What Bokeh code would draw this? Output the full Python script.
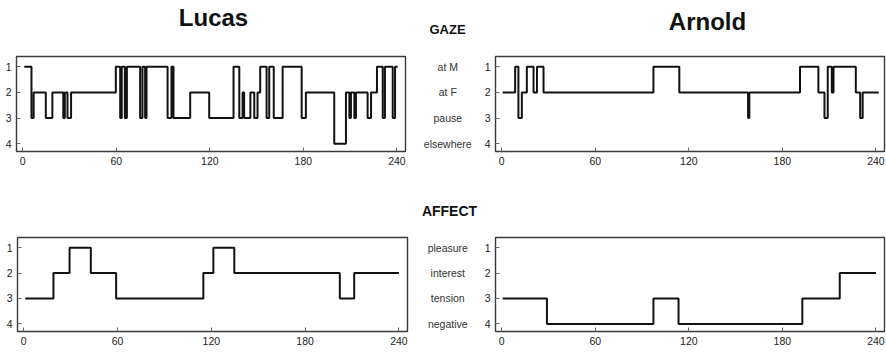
from bokeh.plotting import figure
from bokeh.layouts import column, row
from bokeh.models import Range1d, FixedTicker
from bokeh.embed import file_html
from bokeh.resources import INLINE
from bokeh.core.properties import value

# ---------------- data ----------------
x_ticks = [0, 60, 120, 180, 240]
y_ticks = [1, 2, 3, 4]
gaze_labels = ["at M", "at F", "pause", "elsewhere"]
affect_labels = ["pleasure", "interest", "tension", "negative"]

lucas_gaze_t = [1, 5.6, 7, 14.8, 19, 26, 27, 28.7, 31,
                59.7, 62.5, 63.5, 65.5, 66.8, 75.3, 76.8, 78.5, 79.4, 92.9, 95.4, 96.7,
                107.4, 119.6, 135.2, 138.9, 141, 142, 146, 148.5, 150.6,
                152.3, 156.4, 158.1, 161, 166.7, 178.9, 181.6, 199.8, 207.3, 209.5,
                210.5, 212.7, 213.7, 221.2, 223.4, 227.2, 230.9, 232.3, 237.3, 238.8,
                240.5]
lucas_gaze_lvl = [1, 3, 2, 3, 2, 3, 2, 3, 2,
                  1, 3, 1, 3, 1, 3, 1, 3, 1, 3, 1, 3,
                  2, 3, 1, 3, 2, 3, 2, 3, 2,
                  1, 3, 1, 3, 1, 3, 2, 4, 2, 3,
                  2, 3, 2, 3, 2, 1, 3, 1, 3, 1]

arnold_gaze_t = [0.6, 8.6, 10.7, 12.9, 16.1, 20.4, 22.6, 26.8, 97.3, 113.9,
                 158, 158.8, 191.3, 203.1, 207, 209.1, 211.7, 212.8, 227.1, 229.9,
                 231.5, 241.8]
arnold_gaze_lvl = [2, 1, 3, 2, 1, 2, 1, 2, 1, 2,
                   3, 2, 1, 2, 3, 1, 2, 1, 2, 3, 2]

lucas_affect_t = [1, 19, 29.3, 42.9, 59.1, 114.9, 121.3, 134.7, 202.2, 211.4, 240]
lucas_affect_lvl = [3, 2, 1, 2, 3, 2, 1, 2, 3, 2]

arnold_affect_t = [0.6, 29, 97.3, 113.4, 192.8, 216.8, 240]
arnold_affect_lvl = [3, 4, 3, 4, 3, 2]

FONT = "Liberation Sans"
TXT = "#222222"


def header(h, items):
    p = figure(width=886, height=h, x_range=Range1d(0, 886), y_range=Range1d(h, 0),
               output_backend="svg", toolbar_location=None,
               x_axis_location=None, y_axis_location=None, min_border=0)
    p.outline_line_color = None
    p.grid.visible = False
    for (x, y, t, size) in items:
        p.text(x=[x], y=[y], text=[t], text_font=value(FONT), text_font_style="bold",
               text_font_size=size, text_align="center", text_baseline="middle",
               text_color="#111111")
    return p


def panel(t, lvl, width, height, bl, br, bt, bb):
    p = figure(width=width, height=height, x_range=Range1d(-4, 245.5),
               y_range=Range1d(4.3, 0.6), output_backend="svg", toolbar_location=None,
               min_border_left=bl, min_border_right=br, min_border_top=bt,
               min_border_bottom=bb)
    p.grid.visible = False
    p.outline_line_color = "#3a3a3a"
    p.outline_line_width = 1.4
    p.xaxis.ticker = FixedTicker(ticks=x_ticks)
    p.yaxis.ticker = FixedTicker(ticks=y_ticks)
    for ax in p.axis:
        ax.axis_line_color = None
        ax.major_tick_in = 4
        ax.major_tick_out = 0
        ax.minor_tick_line_color = None
        ax.major_tick_line_color = "#666666"
        ax.major_label_text_font = FONT
        ax.major_label_text_font_size = "10.5px"
        ax.major_label_text_color = TXT
        ax.major_label_standoff = 5
    ys = list(lvl) + [lvl[-1]]
    p.step(x=t, y=ys, mode="after", line_color="#111111", line_width=2)
    return p


def middle(labels, height, bt, bb, yr):
    p = figure(width=64, height=height, x_range=Range1d(0, 1), y_range=yr,
               output_backend="svg", toolbar_location=None,
               x_axis_location=None, y_axis_location=None,
               min_border_left=0, min_border_right=0, min_border_top=bt,
               min_border_bottom=bb)
    p.outline_line_color = None
    p.grid.visible = False
    p.text(x=[0.52] * len(labels), y=y_ticks, text=labels, text_font=value(FONT),
           text_font_size="10.5px", text_align="center", text_baseline="middle",
           text_color="#333333")
    return p


head1 = header(45, [(213, 17, "Lucas", "24px"), (707, 21, "Arnold", "24px"),
                    (447, 29, "GAZE", "13px")])
head2 = header(45, [(449, 30, "AFFECT", "14px")])

gL = panel(lucas_gaze_t, lucas_gaze_lvl, 414, 135, 16, 9, 10, 29)
gR = panel(arnold_gaze_t, arnold_gaze_lvl, 408, 135, 17, 2, 11, 28)
gM = middle(gaze_labels, 135, 11, 28, gR.y_range)

aL = panel(lucas_affect_t, lucas_affect_lvl, 414, 127, 17, 7, 10, 21)
aR = panel(arnold_affect_t, arnold_affect_lvl, 408, 127, 17, 2, 12, 19)
aM = middle(affect_labels, 127, 12, 19, aR.y_range)

layout = column(head1, row(gL, gM, gR), head2, row(aL, aM, aR))

open("out.html", "w").write(file_html(layout, INLINE))
